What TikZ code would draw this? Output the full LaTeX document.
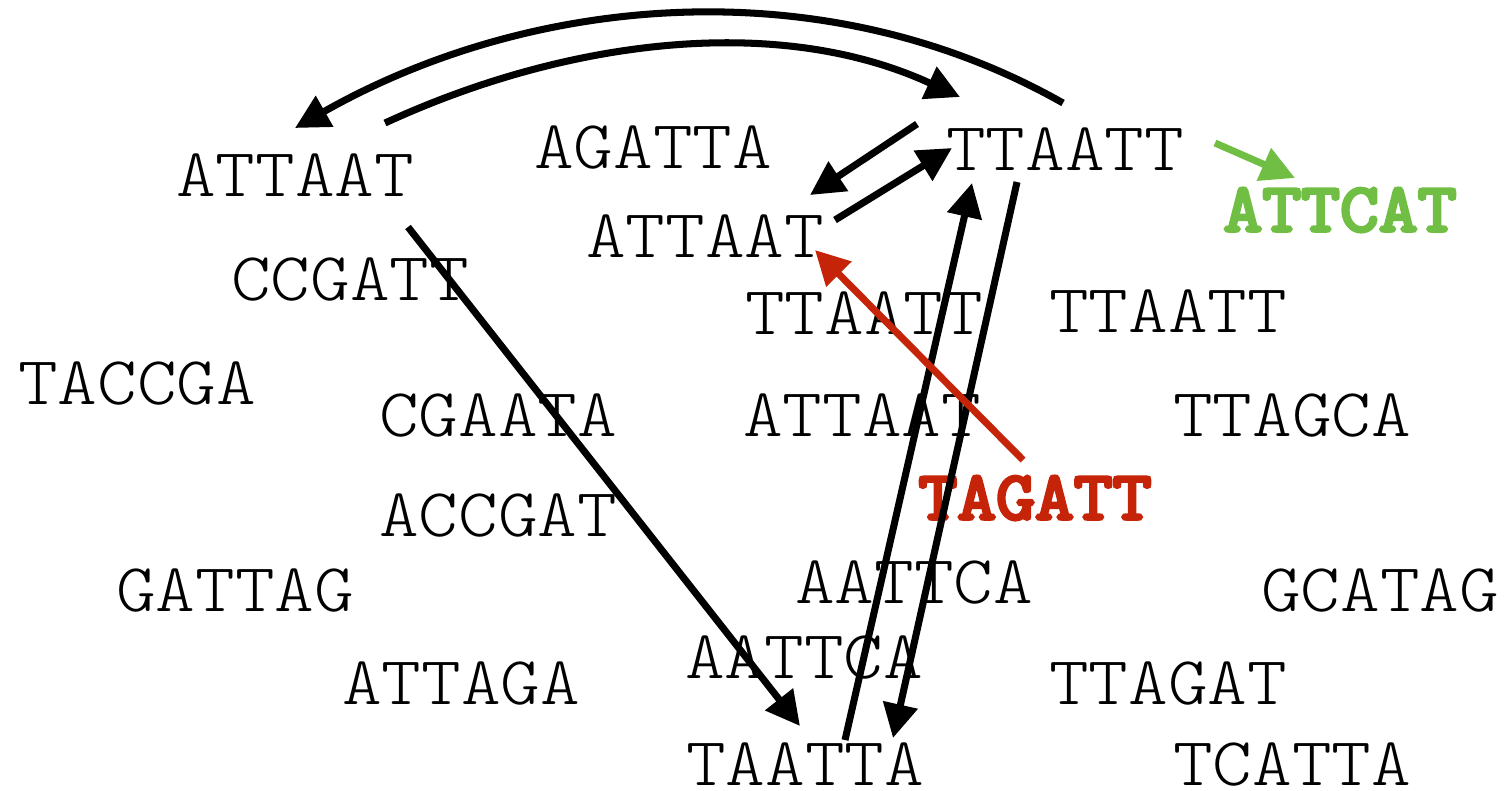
\documentclass[tikz,border=0pt]{standalone}
\usepackage{fontspec}
\setmonofont{Latin Modern Mono Light}[FakeStretch=1.1]
\newfontfamily\dnaboldface{Latin Modern Mono}[FakeBold=5,FakeStretch=1.1]
\usetikzlibrary{positioning,arrows.meta}
\definecolor{DnaInk}{RGB}{0,0,0}
\definecolor{DnaRed}{RGB}{198,36,8}
\definecolor{DnaGreen}{RGB}{113,190,69}
\tikzset{
  dna seq/.style={
    inner sep=0pt,
    text=DnaInk,
    font=\ttfamily\fontsize{19.5}{21}\selectfont
  },
  dna hit/.style={dna seq, text=DnaRed, font=\dnaboldface\fontsize{19.5}{21}\selectfont},
  dna new/.style={dna seq, text=DnaGreen, font=\dnaboldface\fontsize{19.5}{21}\selectfont},
  dna arrow/.style={-{Triangle[length=0.34cm,width=0.34cm]}, line width=2pt, DnaInk},
  dna red arrow/.style={dna arrow, DnaRed},
  dna green arrow/.style={dna arrow, DnaGreen}
}

\begin{document}
\begin{tikzpicture}[x=0.01cm,y=-0.01cm]
\useasboundingbox (0,0) rectangle (1507,790);
% sequence reads
\node[dna seq] (a1) at (295,175) {ATTAAT};
\node[dna seq] (agatta) at (653,148) {AGATTA};
\node[dna seq] (t1) at (1065,149) {TTAATT};
\node[dna new] (attcat) at (1340,210) {ATTCAT};
\node[dna seq] (a2) at (705,236) {ATTAAT};
\node[dna seq] (ccgatt) at (350,279) {CCGATT};
\node[dna seq] (t2) at (864,313) {TTAATT};
\node[dna seq] (t3) at (1168,311) {TTAATT};
\node[dna seq] (taccga) at (137,383) {TACCGA};
\node[dna seq] (cgaata) at (498,415) {CGAATA};
\node[dna seq] (a3) at (862,415) {ATTAAT};
\node[dna seq] (ttagca) at (1292,415) {TTAGCA};
\node[dna hit] (tagatt) at (1035,498) {TAGATT};
\node[dna seq] (accgat) at (498,515) {ACCGAT};
\node[dna seq] (aattca1) at (914,582) {AATTCA};
\node[dna seq] (gattag) at (235,590) {GATTAG};
\node[dna seq] (gcatag) at (1380,590) {GCATAG};
\node[dna seq] (aattca2) at (804,657) {AATTCA};
\node[dna seq] (attaga) at (461,683) {ATTAGA};
\node[dna seq] (ttagat) at (1168,683) {TTAGAT};
\node[dna seq] (taatta) at (805,764) {TAATTA};
\node[dna seq] (tcatta) at (1292,764) {TCATTA};

% overlap links
\draw[dna arrow] ([shift={(-2,-46)}]t1.center) .. controls (825,-32) and (533,-7) .. ([shift={(0,-47)}]a1.center);
\draw[dna arrow] ([shift={(90,-52)}]a1.center) .. controls (567,39) and (778,13) .. ([shift={(-105,-52)}]t1.center);
\draw[dna arrow] ([shift={(-148,-25)}]t1.center) -- ([shift={(105,-41)}]a2.center);
\draw[dna arrow] ([shift={(130,-16)}]a2.center) -- ([shift={(-113,-1)}]t1.center);
\draw[dna arrow] ([shift={(113,52)}]a1.center) -- ([shift={(-5,-38)}]taatta.center);
\draw[dna arrow] ([shift={(40,-24)}]taatta.center) -- ([shift={(-93,34)}]t1.center);
\draw[dna arrow] ([shift={(-48,33)}]t1.center) -- ([shift={(88,-26)}]taatta.center);
\draw[dna red arrow] ([shift={(-12,-38)}]tagatt.center) -- ([shift={(110,14)}]a2.center);
\draw[dna green arrow] ([shift={(150,-6)}]t1.center) -- ([shift={(-45,-32)}]attcat.center);
\end{tikzpicture}
\end{document}
